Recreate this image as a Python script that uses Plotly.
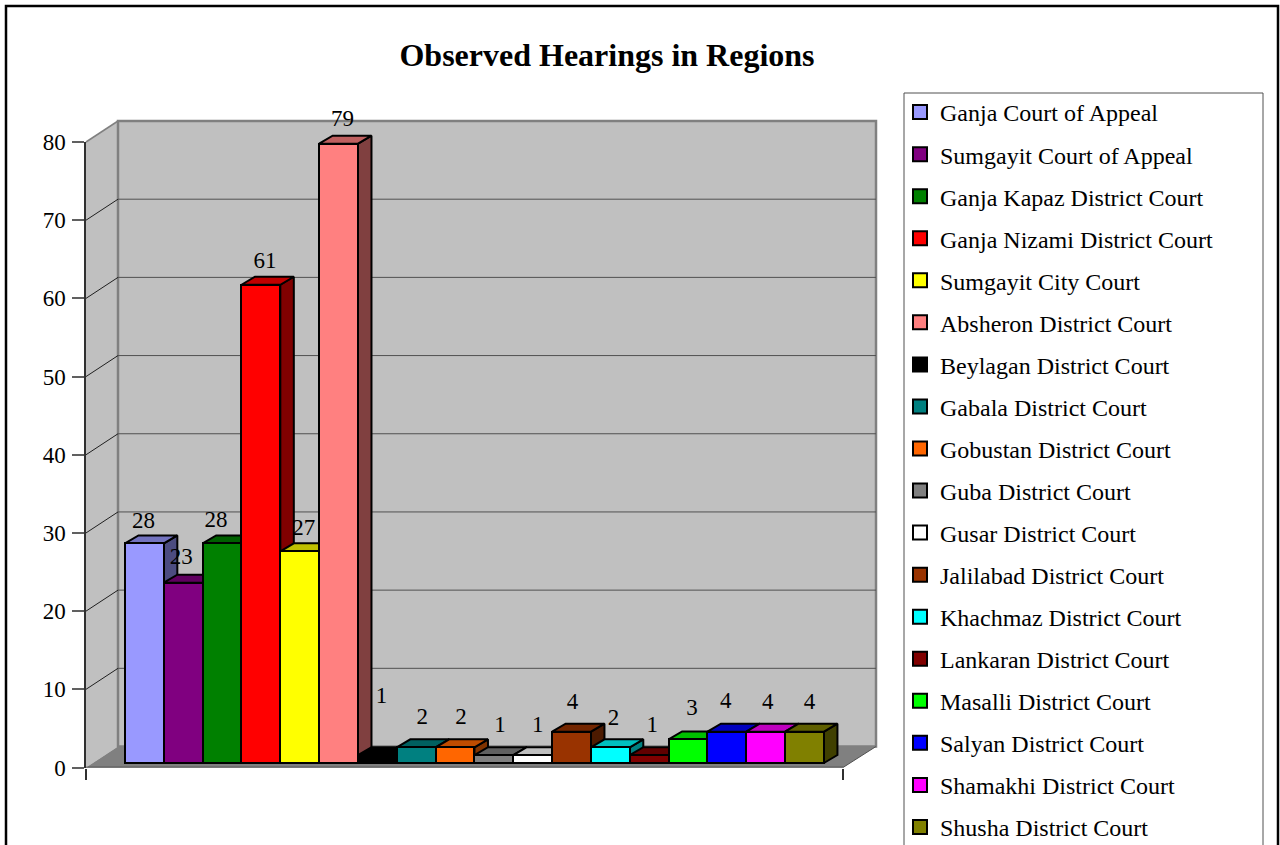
import plotly.graph_objects as go

TITLE = "Observed Hearings in Regions"
COURTS = ["Ganja Court of Appeal", "Sumgayit Court of Appeal", "Ganja Kapaz District Court",
          "Ganja Nizami District Court", "Sumgayit City Court", "Absheron District Court",
          "Beylagan District Court", "Gabala District Court", "Gobustan District Court",
          "Guba District Court", "Gusar District Court", "Jalilabad District Court",
          "Khachmaz District Court", "Lankaran District Court", "Masalli District Court",
          "Salyan District Court", "Shamakhi District Court", "Shusha District Court"]
HEARINGS = [28, 23, 28, 61, 27, 79, 1, 2, 2, 1, 1, 4, 2, 1, 3, 4, 4, 4]
Y_TICKS = [0, 10, 20, 30, 40, 50, 60, 70, 80]
COLORS = [(153,153,255),(128,0,128),(0,128,0),(255,0,0),(255,255,0),(255,128,128),
          (0,0,0),(0,128,128),(255,102,0),(128,128,128),(255,255,255),(153,51,0),
          (0,255,255),(128,0,0),(0,255,0),(0,0,255),(255,0,255),(128,128,0)]
# label offsets from the bar's front-top centre, in px (right, up)
LABEL_DX = [-1,-2,-6,4,4,4,4,6,6,6,5,1,3,3,4,-1,2,5]
LABEL_DY = [21,24,22,23,22,23,58,29,29,29,29,28,28,29,30,29,28,28]

W, H = 1280, 845
UX, UY = 38.83, 7.84           # px per category, px per hearing
BAR_LEFT, BAR_BASE = 125, 763
DX, DY = 13.5 / UX, 8 / UY     # bar depth
LINE = 2

xrange_ = [-0.5 - BAR_LEFT / UX, -0.5 + (W - BAR_LEFT) / UX]
yrange_ = [(BAR_BASE - H) / UY, BAR_BASE / UY]


def shade(c, k):
    return "rgb(%d,%d,%d)" % tuple(round(v * k) for v in c)


fig = go.Figure()

# depth faces, left to right, in the lower subplot
for i, (v, c, n) in enumerate(zip(HEARINGS, COLORS, COURTS)):
    l, r = i - 0.5, i + 0.5
    fig.add_trace(go.Scatter(x=[r, r, r + DX, r + DX, r], y=[0, v, v + DY, DY, 0], mode="lines",
                             fill="toself", fillcolor=shade(c, 0.5), line=dict(color="black", width=LINE),
                             showlegend=False, hoverinfo="skip", xaxis="x", yaxis="y"))
    fig.add_trace(go.Scatter(x=[l, r, r + DX, l + DX, l], y=[v, v, v + DY, v + DY, v], mode="lines",
                             fill="toself", fillcolor=shade(c, 0.75), line=dict(color="black", width=LINE),
                             showlegend=False, hoverinfo="skip", xaxis="x", yaxis="y"))

# front faces
for i, (v, c, n) in enumerate(zip(HEARINGS, COLORS, COURTS)):
    fig.add_trace(go.Bar(x=[i], y=[v], width=1, name=n, marker=dict(color=shade(c, 1), line=dict(color="black", width=LINE)),
                         showlegend=False, xaxis="x2", yaxis="y2"))

# value labels
fig.add_trace(go.Scatter(x=[i + d / UX for i, d in enumerate(LABEL_DX)],
                         y=[v + d / UY for v, d in zip(HEARINGS, LABEL_DY)],
                         mode="text", text=[str(v) for v in HEARINGS], textposition="middle center",
                         textfont=dict(family="Liberation Serif", size=23, color="black"),
                         showlegend=False, hoverinfo="skip", xaxis="x2", yaxis="y2"))

# legend entries
for n, c in zip(COURTS, COLORS):
    fig.add_trace(go.Scatter(x=[None], y=[None], mode="markers", name=n, legendgroup=n,
                             marker=dict(symbol="square", size=14, color=shade(c, 1), line=dict(color="black", width=2)),
                             xaxis="x2", yaxis="y2"))

# visible front axis
fig.add_trace(go.Scatter(x=[0, 1], y=[0, 0], mode="lines", line=dict(color="#303030", width=1.5),
                         showlegend=False, hoverinfo="skip", xaxis="x3", yaxis="y3"))

# walls and floor, in px
FX0, FX1, FY0, FY80 = 86, 843, 767.5, 142
WDX, WDY = 32, 21


def px(x):
    return x / W


def py(y):
    return 1 - y / H


def wy(v):
    return FY0 + (FY80 - FY0) * v / 80


def poly(pts, **kw):
    path = "M" + "L".join(f"{px(x)},{py(y)}" for x, y in pts) + "Z"
    return dict(type="path", path=path, xref="paper", yref="paper", layer="below", **kw)


def seg(x0, y0, x1, y1, color, width):
    return dict(type="line", xref="paper", yref="paper", layer="below", x0=px(x0), y0=py(y0), x1=px(x1), y1=py(y1),
                line=dict(color=color, width=width))


shapes = [
    poly([(FX0, wy(80)), (FX0 + WDX, wy(80) - WDY), (FX0 + WDX, wy(0) - WDY), (FX0, wy(0))],
         fillcolor="#C0C0C0", line=dict(width=0)),
    poly([(FX0 + WDX, wy(80) - WDY), (FX1 + WDX + 1, wy(80) - WDY), (FX1 + WDX + 1, wy(0) - WDY), (FX0 + WDX, wy(0) - WDY)],
         fillcolor="#C0C0C0", line=dict(color="#808080", width=2.5)),
    poly([(FX0, wy(0)), (FX1, wy(0)), (FX1 + WDX + 1, wy(0) - WDY), (FX0 + WDX, wy(0) - WDY)],
         fillcolor="#808080", line=dict(width=0)),
]
for v in Y_TICKS[1:-1]:
    shapes.append(seg(FX0, wy(v), FX0 + WDX, wy(v) - WDY, "#202020", 1))
    shapes.append(seg(FX0 + WDX, wy(v) - WDY, FX1 + WDX + 1, wy(v) - WDY, "#505050", 1))
shapes.append(seg(FX0, wy(80), FX0 + WDX, wy(80) - WDY, "#808080", 1.5))
shapes.append(seg(FX1, wy(0), FX1 + WDX + 1, wy(0) - WDY, "#505050", 1))
# legend box, running off the bottom of the page
shapes.append(dict(type="rect", xref="paper", yref="paper", layer="below",
                   x0=px(904), x1=px(1263), y0=py(93), y1=py(H + 20),
                   line=dict(color="#505050", width=1), fillcolor="white"))
# outer frame, running off the bottom of the page
shapes.append(dict(type="rect", xref="paper", yref="paper", layer="above",
                   x0=px(6), x1=px(1278), y0=py(6), y1=py(H + 20),
                   line=dict(color="black", width=2.5), fillcolor="rgba(0,0,0,0)"))

hidden = dict(visible=False, showgrid=False, zeroline=False, fixedrange=True)
fig.update_layout(
    width=W, height=H, margin=dict(l=0, r=0, t=0, b=0, autoexpand=False),
    paper_bgcolor="white", plot_bgcolor="rgba(0,0,0,0)", bargap=0, barmode="overlay",
    font=dict(family="Liberation Serif", color="black", size=23),
    title=dict(text=f"<b>{TITLE}</b>", x=607 / W, xanchor="center", y=1 - 55 / H, yanchor="middle",
               font=dict(family="Liberation Serif", size=32, color="black")),
    shapes=shapes,
    xaxis=dict(domain=[0, 1], range=xrange_, **hidden),
    yaxis=dict(domain=[0, 1], range=yrange_, **hidden),
    xaxis2=dict(range=xrange_, overlaying="x", anchor="y2", **hidden),
    yaxis2=dict(range=yrange_, overlaying="y", anchor="x2", **hidden),
    xaxis3=dict(domain=[px(FX0), px(FX1)], range=[0, 1], anchor="y3", tickmode="array", tickvals=[0, 1],
                ticktext=["", ""], ticks="outside", ticklen=11, tickcolor="#303030", tickwidth=1.5,
                showline=False, showgrid=False, zeroline=False, fixedrange=True),
    yaxis3=dict(domain=[py(FY0), py(FY80)], range=[0, 80], anchor="x3", tickmode="array", tickvals=Y_TICKS,
                ticks="outside", ticklen=12, tickcolor="#606060", tickwidth=1.5, showline=True,
                linecolor="#303030", linewidth=1.5, showgrid=False, zeroline=False, fixedrange=True,
                ticklabelstandoff=2, tickfont=dict(family="Liberation Serif", size=23, color="black")),
    legend=dict(x=900 / W, y=1 - 90 / H, xanchor="left", yanchor="top", maxheight=1200, tracegroupgap=7.85,
                bgcolor="rgba(0,0,0,0)", borderwidth=0, itemclick=False, itemdoubleclick=False,
                font=dict(family="Liberation Serif", size=24, color="black")),
    hovermode=False,
)

fig.write_html("out.html", config={"displayModeBar": False},
               post_script="document.body.style.margin='0';document.documentElement.style.overflow='hidden';")
